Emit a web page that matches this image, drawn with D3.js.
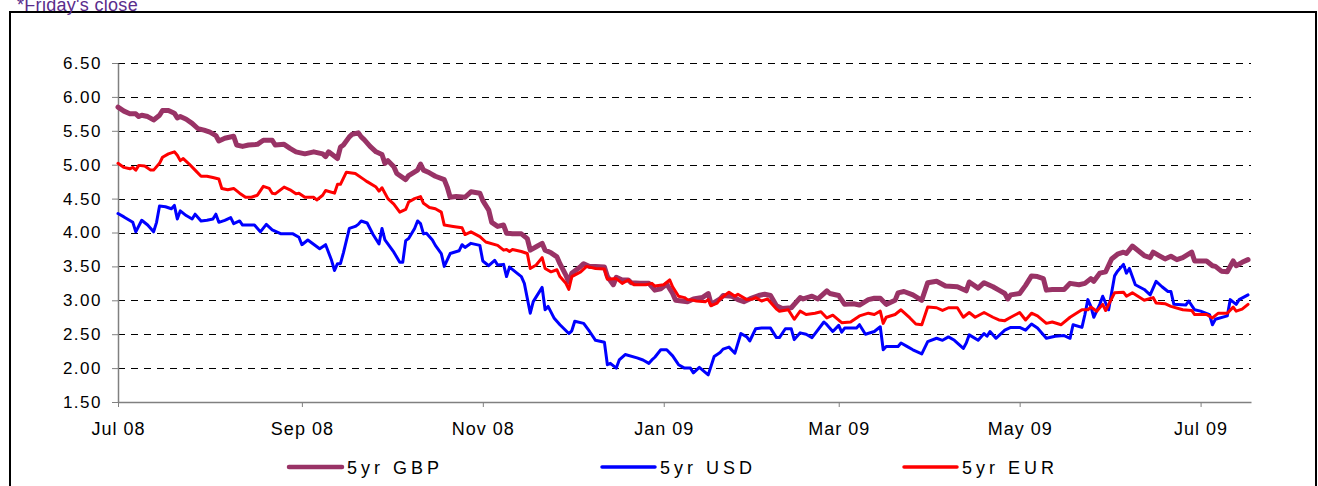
<!DOCTYPE html>
<html>
<head>
<meta charset="utf-8">
<script src="https://cdn.jsdelivr.net/npm/d3@7"></script>
<style>
    body{margin:0;background:#fff;}
    svg{display:block;font-family:"Liberation Sans",Arial,sans-serif;}
</style>
</head>
<body>
<script>
// weekly-ish readings of the 5yr swap rates (date, %)
const gbp = [
    ["2008-07-01",5.85],["2008-07-03",5.79],["2008-07-05",5.75],["2008-07-07",5.75],["2008-07-08",5.71],["2008-07-09",5.73],
    ["2008-07-11",5.71],["2008-07-13",5.66],["2008-07-15",5.73],["2008-07-16",5.80],["2008-07-18",5.80],["2008-07-20",5.76],
    ["2008-07-21",5.69],["2008-07-22",5.71],["2008-07-24",5.67],["2008-07-26",5.61],["2008-07-28",5.53],["2008-07-30",5.51],
    ["2008-08-01",5.48],["2008-08-03",5.43],["2008-08-04",5.35],["2008-08-06",5.39],["2008-08-09",5.42],["2008-08-10",5.29],
    ["2008-08-12",5.27],["2008-08-14",5.29],["2008-08-17",5.30],["2008-08-19",5.36],["2008-08-22",5.36],["2008-08-23",5.29],
    ["2008-08-26",5.30],["2008-08-28",5.24],["2008-08-30",5.19],["2008-09-02",5.16],["2008-09-05",5.19],["2008-09-08",5.16],
    ["2008-09-09",5.12],["2008-09-10",5.19],["2008-09-13",5.09],["2008-09-14",5.26],["2008-09-15",5.29],["2008-09-17",5.41],
    ["2008-09-18",5.45],["2008-09-20",5.47],["2008-09-21",5.41],["2008-09-22",5.37],["2008-09-24",5.27],["2008-09-26",5.19],
    ["2008-09-28",5.15],["2008-09-29",5.02],["2008-09-30",5.06],["2008-10-02",4.97],["2008-10-03",4.87],["2008-10-06",4.78],
    ["2008-10-07",4.84],["2008-10-10",4.92],["2008-10-11",5.01],["2008-10-12",4.92],["2008-10-14",4.88],["2008-10-16",4.83],
    ["2008-10-19",4.78],["2008-10-20",4.67],["2008-10-21",4.52],["2008-10-23",4.53],["2008-10-26",4.52],["2008-10-28",4.60],
    ["2008-10-31",4.58],["2008-11-01",4.47],["2008-11-03",4.33],["2008-11-04",4.15],["2008-11-06",4.09],["2008-11-08",4.11],
    ["2008-11-09",3.99],["2008-11-11",3.98],["2008-11-14",3.98],["2008-11-16",3.91],["2008-11-17",3.74],["2008-11-19",3.79],
    ["2008-11-21",3.84],["2008-11-22",3.74],["2008-11-24",3.70],["2008-11-26",3.64],["2008-11-27",3.54],["2008-11-29",3.37],
    ["2008-11-30",3.27],["2008-12-01",3.40],["2008-12-04",3.50],["2008-12-05",3.54],["2008-12-07",3.50],["2008-12-09",3.50],
    ["2008-12-12",3.49],["2008-12-13",3.35],["2008-12-15",3.23],["2008-12-16",3.34],["2008-12-18",3.30],["2008-12-20",3.30],
    ["2008-12-21",3.26],["2008-12-24",3.25],["2008-12-27",3.25],["2008-12-29",3.15],["2008-12-31",3.17],["2009-01-02",3.24],
    ["2009-01-04",3.10],["2009-01-05",3.00],["2009-01-09",2.98],["2009-01-11",3.02],["2009-01-14",3.04],["2009-01-16",3.10],
    ["2009-01-17",2.94],["2009-01-20",3.02],["2009-01-21",3.07],["2009-01-24",3.06],["2009-01-26",3.01],["2009-01-28",2.98],
    ["2009-01-30",3.02],["2009-02-02",3.07],["2009-02-04",3.09],["2009-02-06",3.07],["2009-02-08",2.92],["2009-02-10",2.88],
    ["2009-02-13",2.89],["2009-02-16",3.04],["2009-02-17",3.02],["2009-02-20",3.06],["2009-02-22",3.02],["2009-02-25",3.14],
    ["2009-02-26",3.10],["2009-03-01",3.07],["2009-03-03",2.94],["2009-03-06",2.95],["2009-03-08",2.93],["2009-03-11",3.01],
    ["2009-03-13",3.03],["2009-03-15",3.03],["2009-03-17",2.94],["2009-03-20",3.00],["2009-03-21",3.11],["2009-03-23",3.13],
    ["2009-03-26",3.08],["2009-03-29",3.00],["2009-03-31",3.26],["2009-04-03",3.28],["2009-04-06",3.21],["2009-04-10",3.20],
    ["2009-04-13",3.14],["2009-04-14",3.27],["2009-04-17",3.18],["2009-04-19",3.26],["2009-04-22",3.20],["2009-04-24",3.15],
    ["2009-04-26",3.10],["2009-04-27",3.02],["2009-04-28",3.08],["2009-05-01",3.10],["2009-05-03",3.22],["2009-05-05",3.36],
    ["2009-05-07",3.35],["2009-05-09",3.32],["2009-05-10",3.15],["2009-05-12",3.16],["2009-05-14",3.16],["2009-05-16",3.16],
    ["2009-05-18",3.25],["2009-05-21",3.23],["2009-05-23",3.25],["2009-05-25",3.32],["2009-05-26",3.28],["2009-05-28",3.40],
    ["2009-05-30",3.42],["2009-06-01",3.61],["2009-06-03",3.68],["2009-06-05",3.71],["2009-06-06",3.69],["2009-06-08",3.80],
    ["2009-06-10",3.73],["2009-06-12",3.66],["2009-06-14",3.63],["2009-06-15",3.71],["2009-06-17",3.66],["2009-06-19",3.61],
    ["2009-06-21",3.65],["2009-06-23",3.60],["2009-06-25",3.63],["2009-06-28",3.71],["2009-06-29",3.58],["2009-07-03",3.58],
    ["2009-07-05",3.51],["2009-07-06",3.50],["2009-07-08",3.43],["2009-07-10",3.42],["2009-07-12",3.58],["2009-07-13",3.51],
    ["2009-07-15",3.56],["2009-07-17",3.60]
];

const usd = [
    ["2008-07-01",4.28],["2008-07-03",4.23],["2008-07-06",4.15],["2008-07-07",4.01],["2008-07-09",4.18],["2008-07-11",4.11],
    ["2008-07-13",4.01],["2008-07-14",4.15],["2008-07-15",4.39],["2008-07-17",4.38],["2008-07-19",4.35],["2008-07-20",4.40],
    ["2008-07-21",4.20],["2008-07-22",4.32],["2008-07-24",4.25],["2008-07-26",4.20],["2008-07-27",4.27],["2008-07-29",4.17],
    ["2008-07-31",4.18],["2008-08-02",4.20],["2008-08-03",4.27],["2008-08-04",4.15],["2008-08-06",4.18],["2008-08-08",4.22],
    ["2008-08-09",4.13],["2008-08-11",4.17],["2008-08-12",4.11],["2008-08-16",4.11],["2008-08-18",4.01],["2008-08-20",4.12],
    ["2008-08-22",4.04],["2008-08-25",3.98],["2008-08-29",3.98],["2008-08-31",3.93],["2008-09-01",3.82],["2008-09-03",3.89],
    ["2008-09-07",3.76],["2008-09-09",3.82],["2008-09-11",3.59],["2008-09-12",3.44],["2008-09-13",3.54],["2008-09-14",3.54],
    ["2008-09-15",3.70],["2008-09-17",4.06],["2008-09-19",4.09],["2008-09-20",4.12],["2008-09-21",4.17],["2008-09-23",4.14],
    ["2008-09-25",3.97],["2008-09-27",3.83],["2008-09-28",4.06],["2008-09-29",3.89],["2008-10-02",3.71],["2008-10-04",3.56],
    ["2008-10-05",3.56],["2008-10-06",3.88],["2008-10-07",3.91],["2008-10-09",4.06],["2008-10-10",4.17],["2008-10-11",4.13],
    ["2008-10-12",3.98],["2008-10-13",3.99],["2008-10-15",3.89],["2008-10-16",3.81],["2008-10-18",3.69],["2008-10-19",3.50],
    ["2008-10-21",3.69],["2008-10-24",3.73],["2008-10-25",3.82],["2008-10-26",3.78],["2008-10-28",3.84],["2008-10-31",3.81],
    ["2008-11-01",3.58],["2008-11-03",3.51],["2008-11-05",3.59],["2008-11-06",3.52],["2008-11-08",3.53],["2008-11-09",3.35],
    ["2008-11-10",3.49],["2008-11-12",3.42],["2008-11-14",3.35],["2008-11-15",3.25],["2008-11-17",2.81],["2008-11-18",2.98],
    ["2008-11-21",3.19],["2008-11-22",2.86],["2008-11-23",2.91],["2008-11-25",2.74],["2008-11-27",2.64],["2008-11-30",2.51],
    ["2008-12-01",2.55],["2008-12-02",2.69],["2008-12-05",2.66],["2008-12-07",2.54],["2008-12-09",2.41],["2008-12-12",2.38],
    ["2008-12-13",2.05],["2008-12-14",2.07],["2008-12-16",2.00],["2008-12-17",2.12],["2008-12-19",2.20],["2008-12-23",2.15],
    ["2008-12-25",2.12],["2008-12-27",2.07],["2008-12-28",2.12],["2008-12-29",2.16],["2008-12-31",2.27],["2009-01-02",2.27],
    ["2009-01-04",2.18],["2009-01-06",2.05],["2009-01-08",2.00],["2009-01-10",2.00],["2009-01-11",1.93],["2009-01-13",2.01],
    ["2009-01-16",1.90],["2009-01-18",2.17],["2009-01-20",2.23],["2009-01-21",2.28],["2009-01-23",2.31],["2009-01-25",2.22],
    ["2009-01-27",2.51],["2009-01-29",2.46],["2009-01-30",2.40],["2009-02-01",2.58],["2009-02-03",2.59],["2009-02-06",2.59],
    ["2009-02-08",2.45],["2009-02-09",2.45],["2009-02-11",2.58],["2009-02-13",2.58],["2009-02-14",2.42],["2009-02-16",2.52],
    ["2009-02-18",2.50],["2009-02-20",2.45],["2009-02-24",2.68],["2009-02-25",2.64],["2009-02-27",2.54],["2009-03-01",2.63],
    ["2009-03-02",2.53],["2009-03-03",2.59],["2009-03-07",2.59],["2009-03-08",2.64],["2009-03-10",2.50],["2009-03-13",2.54],
    ["2009-03-15",2.61],["2009-03-16",2.27],["2009-03-17",2.32],["2009-03-21",2.32],["2009-03-22",2.37],["2009-03-24",2.32],
    ["2009-03-26",2.27],["2009-03-29",2.21],["2009-03-31",2.39],["2009-04-03",2.44],["2009-04-05",2.41],["2009-04-07",2.46],
    ["2009-04-09",2.41],["2009-04-12",2.29],["2009-04-13",2.37],["2009-04-14",2.49],["2009-04-17",2.41],["2009-04-19",2.51],
    ["2009-04-20",2.47],["2009-04-21",2.54],["2009-04-23",2.44],["2009-04-26",2.56],["2009-04-28",2.60],["2009-05-01",2.60],
    ["2009-05-03",2.56],["2009-05-05",2.65],["2009-05-07",2.59],["2009-05-10",2.44],["2009-05-13",2.47],["2009-05-16",2.48],
    ["2009-05-18",2.44],["2009-05-19",2.64],["2009-05-22",2.60],["2009-05-23",2.79],["2009-05-24",3.01],["2009-05-25",2.91],
    ["2009-05-26",2.75],["2009-05-28",2.94],["2009-05-29",3.06],["2009-05-31",2.86],["2009-06-02",3.36],["2009-06-03",3.43],
    ["2009-06-05",3.53],["2009-06-06",3.40],["2009-06-07",3.47],["2009-06-09",3.23],["2009-06-12",3.16],["2009-06-14",3.08],
    ["2009-06-16",3.28],["2009-06-18",3.20],["2009-06-20",3.13],["2009-06-21",3.13],["2009-06-22",2.94],["2009-06-26",2.93],
    ["2009-06-27",2.99],["2009-06-29",2.86],["2009-07-01",2.84],["2009-07-04",2.79],["2009-07-05",2.64],["2009-07-06",2.72],
    ["2009-07-10",2.77],["2009-07-11",3.01],["2009-07-13",2.94],["2009-07-14",3.01],["2009-07-17",3.08]
];

const eur = [
    ["2008-07-01",5.02],["2008-07-03",4.96],["2008-07-05",4.94],["2008-07-06",4.96],["2008-07-07",4.92],["2008-07-08",4.99],
    ["2008-07-10",4.98],["2008-07-12",4.92],["2008-07-13",4.92],["2008-07-15",5.02],["2008-07-16",5.11],["2008-07-18",5.16],
    ["2008-07-20",5.19],["2008-07-21",5.14],["2008-07-22",5.06],["2008-07-23",5.09],["2008-07-25",5.01],["2008-07-27",4.92],
    ["2008-07-29",4.83],["2008-07-31",4.83],["2008-08-02",4.81],["2008-08-04",4.79],["2008-08-05",4.65],["2008-08-07",4.63],
    ["2008-08-09",4.65],["2008-08-11",4.58],["2008-08-13",4.52],["2008-08-15",4.52],["2008-08-17",4.55],["2008-08-19",4.68],
    ["2008-08-21",4.65],["2008-08-22",4.58],["2008-08-23",4.57],["2008-08-26",4.67],["2008-08-28",4.63],["2008-08-30",4.57],
    ["2008-08-31",4.58],["2008-09-02",4.52],["2008-09-05",4.52],["2008-09-06",4.48],["2008-09-08",4.55],["2008-09-09",4.62],
    ["2008-09-12",4.58],["2008-09-13",4.71],["2008-09-14",4.71],["2008-09-16",4.89],["2008-09-19",4.87],["2008-09-22",4.78],
    ["2008-09-23",4.75],["2008-09-26",4.67],["2008-09-27",4.61],["2008-09-28",4.66],["2008-09-30",4.50],["2008-10-02",4.42],
    ["2008-10-04",4.30],["2008-10-06",4.34],["2008-10-07",4.45],["2008-10-09",4.50],["2008-10-11",4.53],["2008-10-12",4.43],
    ["2008-10-14",4.37],["2008-10-16",4.35],["2008-10-18",4.30],["2008-10-19",4.11],["2008-10-22",4.09],["2008-10-25",4.07],
    ["2008-10-26",3.97],["2008-10-28",4.01],["2008-10-31",3.94],["2008-11-02",3.86],["2008-11-06",3.81],["2008-11-08",3.74],
    ["2008-11-09",3.75],["2008-11-10",3.72],["2008-11-11",3.75],["2008-11-14",3.72],["2008-11-16",3.69],["2008-11-17",3.47],
    ["2008-11-19",3.52],["2008-11-21",3.63],["2008-11-22",3.47],["2008-11-24",3.42],["2008-11-26",3.45],["2008-11-27",3.35],
    ["2008-11-29",3.25],["2008-11-30",3.16],["2008-12-01",3.35],["2008-12-04",3.42],["2008-12-06",3.50],["2008-12-09",3.47],
    ["2008-12-12",3.46],["2008-12-13",3.31],["2008-12-16",3.32],["2008-12-18",3.25],["2008-12-20",3.30],["2008-12-22",3.23],
    ["2008-12-26",3.23],["2008-12-28",3.25],["2008-12-29",3.21],["2009-01-01",3.23],["2009-01-03",3.30],["2009-01-04",3.20],
    ["2009-01-06",3.06],["2009-01-08",3.04],["2009-01-09",3.01],["2009-01-11",3.00],["2009-01-12",2.99],["2009-01-15",2.98],
    ["2009-01-16",3.01],["2009-01-17",2.92],["2009-01-19",2.96],["2009-01-20",3.02],["2009-01-23",3.12],["2009-01-25",3.06],
    ["2009-01-26",3.09],["2009-01-29",3.01],["2009-01-31",3.02],["2009-02-01",3.04],["2009-02-03",2.99],["2009-02-05",3.02],
    ["2009-02-08",2.87],["2009-02-09",2.84],["2009-02-12",2.86],["2009-02-14",2.72],["2009-02-16",2.84],["2009-02-18",2.79],
    ["2009-02-21",2.81],["2009-02-23",2.83],["2009-02-25",2.74],["2009-02-27",2.78],["2009-03-02",2.67],["2009-03-05",2.68],
    ["2009-03-08",2.77],["2009-03-11",2.81],["2009-03-13",2.79],["2009-03-15",2.84],["2009-03-16",2.66],["2009-03-17",2.75],
    ["2009-03-20",2.79],["2009-03-22",2.86],["2009-03-25",2.74],["2009-03-27",2.65],["2009-03-29",2.64],["2009-03-31",2.90],
    ["2009-04-03",2.89],["2009-04-05",2.85],["2009-04-07",2.89],["2009-04-10",2.89],["2009-04-12",2.75],["2009-04-14",2.82],
    ["2009-04-16",2.75],["2009-04-19",2.82],["2009-04-22",2.75],["2009-04-24",2.71],["2009-04-26",2.70],["2009-04-28",2.75],
    ["2009-05-01",2.82],["2009-05-03",2.71],["2009-05-05",2.81],["2009-05-07",2.77],["2009-05-10",2.66],["2009-05-12",2.68],
    ["2009-05-15",2.64],["2009-05-18",2.75],["2009-05-22",2.86],["2009-05-24",2.86],["2009-05-25",2.90],["2009-05-27",2.84],
    ["2009-05-29",2.94],["2009-05-30",2.85],["2009-06-02",3.11],["2009-06-05",3.12],["2009-06-06",3.06],["2009-06-08",3.11],
    ["2009-06-12",3.00],["2009-06-15",3.04],["2009-06-16",2.96],["2009-06-19",2.95],["2009-06-21",2.91],["2009-06-25",2.86],
    ["2009-06-28",2.85],["2009-06-29",2.79],["2009-07-03",2.79],["2009-07-05",2.74],["2009-07-07",2.81],["2009-07-10",2.81],
    ["2009-07-12",2.90],["2009-07-13",2.84],["2009-07-15",2.87],["2009-07-17",2.94]
];

const seriesNames = ["5yr GBP", "5yr USD", "5yr EUR"];
const seriesColors = ["#993366", "#0000ff", "#ff0000"];
const yTicks = [1.5, 2, 2.5, 3, 3.5, 4, 4.5, 5, 5.5, 6, 6.5];
const xTicks = ["2008-07-01", "2008-09-01", "2008-11-01", "2009-01-01", "2009-03-01", "2009-05-01", "2009-07-01"];
const xDomain = ["2008-07-01", "2009-07-18"];
const note = "*Friday's close";

// layout
const width = 1318, height = 486;
const plot = {left: 118, right: 1251, top: 63, bottom: 402};
const parse = d3.timeParse("%Y-%m-%d");

const svg = d3.select('body').append('svg')
    .attr('width', width).attr('height', height);

svg.append('rect').attr('width', width).attr('height', height).attr('fill', '#fff');

// outer frame + note (the note sits clipped at the top, as in the source)
svg.append('rect')
    .attr('x', 10).attr('y', 12)
    .attr('width', 1306).attr('height', 490)
    .attr('fill', 'none').attr('stroke', '#000').attr('stroke-width', 2);

svg.append('text')
    .attr('x', 17).attr('y', 11)
    .attr('font-size', 18).attr('letter-spacing', 0.3).attr('fill', '#5a2d8c')
    .text(note);

const x = d3.scaleTime().domain(xDomain.map(parse)).range([plot.left, plot.right]);
const y = d3.scaleLinear().domain([1.5, 6.5]).range([plot.bottom, plot.top]);

// dashed gridlines
svg.append('g').selectAll('line')
    .data(yTicks.filter(v => v > 1.5))
    .join('line')
    .attr('x1', plot.left).attr('x2', plot.right)
    .attr('y1', d => Math.round(y(d)) + 0.5).attr('y2', d => Math.round(y(d)) + 0.5)
    .attr('stroke', '#000').attr('stroke-width', 1)
    .attr('stroke-dasharray', '7,6');

// y axis
const yAxis = svg.append('g')
    .attr('transform', `translate(${plot.left},0)`)
    .call(d3.axisLeft(y).tickValues(yTicks).tickFormat(d3.format('.2f')).tickSize(6).tickSizeOuter(0).tickPadding(10));

// x axis
const xAxis = svg.append('g')
    .attr('transform', `translate(0,${plot.bottom})`)
    .call(d3.axisBottom(x).tickValues(xTicks.map(parse)).tickFormat(d3.timeFormat('%b %y')).tickSize(5).tickSizeOuter(0).tickPadding(15));

[yAxis, xAxis].forEach(a => {
    a.select('.domain').attr('stroke', '#808080').attr('stroke-width', 1.5);
    a.selectAll('.tick line').attr('stroke', '#808080');
    a.selectAll('.tick text')
        .attr('fill', '#000')
        .attr('font-family', '"Liberation Sans",Arial,sans-serif');
});
yAxis.selectAll('.tick text').attr('font-size', 17).attr('letter-spacing', 1.5);
xAxis.selectAll('.tick text').attr('font-size', 18).attr('letter-spacing', 1);

// lines
const series = [
    {name: seriesNames[0], data: gbp, color: seriesColors[0], width: 5},
    {name: seriesNames[1], data: usd, color: seriesColors[1], width: 3},
    {name: seriesNames[2], data: eur, color: seriesColors[2], width: 3}
];

const lineGen = d3.line()
    .x(d => x(parse(d[0])))
    .y(d => y(d[1]));

svg.append('g').selectAll('path')
    .data(series)
    .join('path')
    .attr('d', d => lineGen(d.data))
    .attr('fill', 'none')
    .attr('stroke', d => d.color)
    .attr('stroke-width', d => d.width)
    .attr('stroke-linejoin', 'round')
    .attr('stroke-linecap', 'round');

// legend
const legendX = [289, 602, 904];
const legend = svg.append('g').selectAll('g')
    .data(series)
    .join('g')
    .attr('transform', (d, i) => `translate(${legendX[i]},467)`);

legend.append('line')
    .attr('x1', 0).attr('x2', 53)
    .attr('stroke', d => d.color)
    .attr('stroke-width', (d, i) => i === 0 ? 4.5 : 3.5)
    .attr('stroke-linecap', 'round');

legend.append('text')
    .attr('x', 58).attr('y', 7)
    .attr('font-size', 18).attr('letter-spacing', 4)
    .attr('fill', '#000')
    .text(d => d.name);
</script>
</body>
</html>
